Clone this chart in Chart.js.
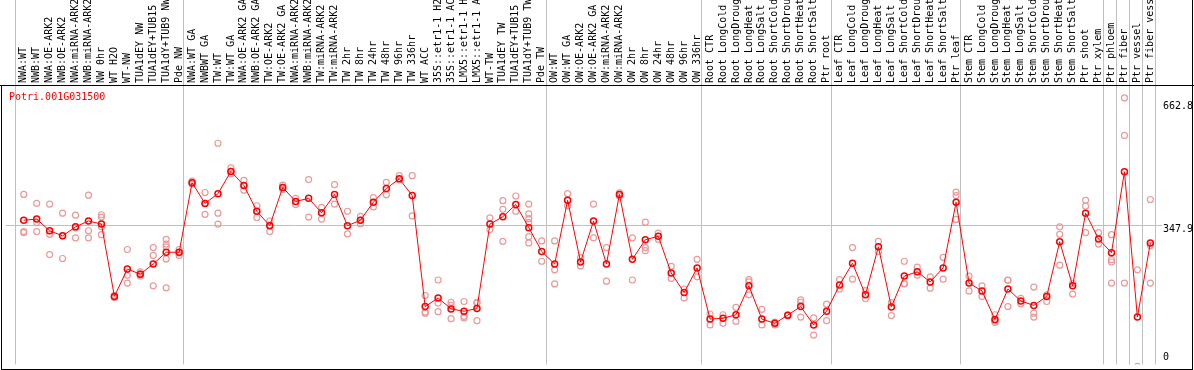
<!DOCTYPE html>
<html><head><meta charset="utf-8">
<script src="https://cdn.jsdelivr.net/npm/chart.js@4.4.1/dist/chart.umd.min.js"></script>
<style>
html,body{margin:0;padding:0;background:#fff;}
#wrap{position:relative;width:1194px;height:370px;overflow:hidden;background:#fff;}
canvas{position:absolute;left:0;top:0;}
.ln{position:absolute;background:#000;}
#title{position:absolute;left:9px;top:92px;font:10px/10px 'DejaVu Sans Mono',monospace;color:#ff0000;white-space:pre;}
</style></head><body>
<div id="wrap">
<canvas id="c" width="1194" height="370"></canvas>
<div id="title">Potri.001G031500</div>
<div class="ln" style="left:0;top:85px;width:1194px;height:1px"></div>
<div class="ln" style="left:1px;top:85px;width:1px;height:285px"></div>
<div class="ln" style="left:1px;top:369px;width:1192px;height:1px"></div>
<div class="ln" style="left:1192px;top:0;width:1px;height:370px"></div>
</div>
<script>
const categories = [
 "NWA:WT","NWB:WT","NWA:OE-ARK2","NWB:OE-ARK2","NWA:miRNA-ARK2","NWB:miRNA-ARK2","NW 0hr","WT H2O","WT-NW","TUA1dEY NW","TUA1dEY+TUB15 NW","TUA1dY+TUB9 NW","Pde NW",
 "NWA:WT GA","NWBWT GA","TW:WT","TW:WT GA","NWA:OE-ARK2 GA","NWB:OE-ARK2 GA","TW:OE-ARK2","TW:OE-ARK2 GA","NWA:miRNA-ARK2 GA","NWB:miRNA-ARK2 GA","TW:miRNA-ARK2","TW:miRNA-ARK2 GA",
 "TW 2hr","TW 8hr","TW 24hr","TW 48hr","TW 96hr","TW 336hr","WT ACC","35S::etr1-1 H2O","35S::etr1-1 ACC","LMX5::etr1-1 H2O","LMX5::etr1-1 ACC","WT-TW","TUA1dEY TW","TUA1dEY+TUB15 TW","TUA1dY+TUB9 TW","Pde TW",
 "OW:WT","OW:WT GA","OW:OE-ARK2","OW:OE-ARK2 GA","OW:miRNA-ARK2","OW:miRNA-ARK2 GA","OW 2hr","OW 8hr","OW 24hr","OW 48hr","OW 96hr","OW 336hr",
 "Root CTR","Root LongCold","Root LongDrought","Root LongHeat","Root LongSalt","Root ShortCold","Root ShortDrought","Root ShortHeat","Root ShortSalt","Ptr root",
 "Leaf CTR","Leaf LongCold","Leaf LongDrought","Leaf LongHeat","Leaf LongSalt","Leaf ShortCold","Leaf ShortDrought","Leaf ShortHeat","Leaf ShortSalt","Ptr leaf",
 "Stem CTR","Stem LongCold","Stem LongDrought","Stem LongHeat","Stem LongSalt","Stem ShortCold","Stem ShortDrought","Stem ShortHeat","Stem ShortSalt","Ptr shoot","Ptr xylem",
 "Ptr phloem","Ptr fiber","Ptr vessel","Ptr fiber vessel"
];
const meanValues = [
 362,365,335,322,345,360,352,167,237,224,
 250,280,280,458,405,430,487,451,385,348,
 446,410,418,381,428,348,362,408,443,468,
 425,141,163,135,129,136,352,371,402,343,
 282,250,413,255,360,250,428,262,312,321,
 227,177,240,109,111,120,194,109,98,119,
 141,94,129,196,252,171,294,140,219,230,
 204,240,408,201,181,108,186,155,144,167,
 307,194,380,314,279,486,114,304
];
const replicateValues = [
 [428,333,330],[405,356,333],[403,326,274],[380,322,264],[375,342,317],[426,335,317],[376,370,345,325],[169,166,164],[287,221,201],[230,225,219],
 [292,272,194],[313,301,294,263,189],[287,278,272],[462,458,454],[433,405,377],[559,380,352],[496,487,481],[464,451,439],[399,385,369],[360,350,333],
 [452,446,441],[418,402],[466,370],[395,365],[453,403],[385,327],[372,362,353],[420,396],[459,427],[476,465],
 [476,373],[169,127,124],[209,150,128],[152,144,110],[154,116,112],[152,150,105],[368,338],[412,390,308],[424,385],[403,378,366,356,320,304],
 [309,257],[309,235,199],[430,399],[266,245],[403,317],[292,206],[432,424],[317,209],[357,292,284],[329,313],
 [244,213],[186,163],[262,217],[122,94],[120,98],[139,103],[210,204,171],[134,94],[101,94],[120,117],
 [158,152,114],[112,68],[147,105],[210,186],[292,211],[182,161],[308,282],[151,118],[257,200,199],[242,221],
 [217,188],[267,211],[434,425,364],[219,181],[194,167],[120,104,100],[209,208,141],[162,148],[191,124,114],[171,154],
 [345,326,247],[200,173],[413,398,330],[330,301],[325,261,255,201],[675,579,201],[235,-12],[415,297,201]
];
const groupStarts = [0,13,41,53,63,73,84,85,86,87,88];
const yTickValues = [0, 347.9, 662.8];
const yGridValue = 347.9;

const FONT = "'DejaVu Sans Mono', monospace";
Chart.defaults.font.family = FONT;
Chart.defaults.font.size = 10;
Chart.defaults.color = '#000';

const breaks = groupStarts.map(s => s - 0.64);
const meanPts = meanValues.map((v, i) => ({x: i, y: v}));
const repPts = [];
replicateValues.forEach((arr, i) => arr.forEach(v => repPts.push({x: i, y: v})));

new Chart(document.getElementById('c'), {
  type: 'line',
  data: {datasets: [
    {label: 'mean', data: meanPts, borderColor: '#ff0000', borderWidth: 1,
     pointRadius: 3, pointBorderWidth: 1.5, pointBorderColor: '#ff0000',
     pointBackgroundColor: 'rgba(0,0,0,0)', tension: 0, order: 0},
    {label: 'replicates', data: repPts, showLine: false,
     pointRadius: 3, pointBorderWidth: 1.2, pointBorderColor: '#eb9a9a',
     pointBackgroundColor: 'rgba(0,0,0,0)', order: 1}
  ]},
  options: {
    responsive: false, animation: false, devicePixelRatio: 1,
    layout: {padding: {left: 1, right: 0, top: 0, bottom: 1}},
    plugins: {legend: {display: false}, tooltip: {enabled: false}, title: {display: false}},
    scales: {
      x: {
        type: 'linear', position: 'top', min: -1.408, max: 87.9,
        afterBuildTicks(s) {
          s.ticks = categories.map((c, i) => ({value: i})).concat(breaks.map(b => ({value: b})));
        },
        afterFit(s) { s.height = 85; s.paddingLeft = 0; s.paddingRight = 0; },
        ticks: {
          autoSkip: false, minRotation: 90, maxRotation: 90, padding: -83, labelOffset: 12,
          color: '#000', font: {size: 10},
          callback(v) { return Number.isInteger(v) ? (categories[v] || '') : ''; }
        },
        grid: {
          drawTicks: true, tickLength: 85, lineWidth: 1,
          color(ctx) { return ctx.tick && !Number.isInteger(ctx.tick.value) ? '#c0c0c0' : 'rgba(0,0,0,0)'; }
        },
        border: {display: false}
      },
      y: {
        type: 'linear', position: 'right', min: -7.3, max: 708.1,
        afterBuildTicks(s) { s.ticks = yTickValues.map(v => ({value: v})); },
        afterFit(s) { s.width = 32; s.paddingTop = 0; s.paddingBottom = 0; },
        ticks: {
          padding: 1, color: '#000', font: {size: 10, lineHeight: 0.8},
          callback(v) { const t = String(v); return v === 0 ? [t, ''] : ['', t]; }
        },
        grid: {
          drawTicks: false, lineWidth: 1,
          color(ctx) { return ctx.tick && ctx.tick.value === yGridValue ? '#c0c0c0' : 'rgba(0,0,0,0)'; }
        },
        border: {display: false}
      }
    }
  }
});
</script>
</body></html>
